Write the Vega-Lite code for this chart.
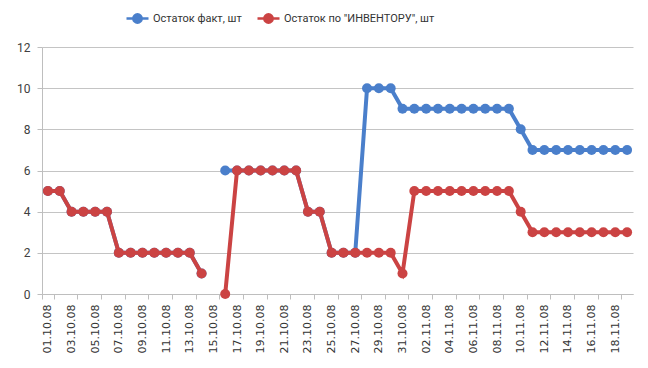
{
  "$schema": "https://vega.github.io/schema/vega-lite/v6.json",
  "width": 591,
  "height": 247,
  "autosize": {"type": "none"},
  "padding": {"left": 42, "top": 47, "right": 15, "bottom": 74},
  "background": "white",
  "config": {"view": {"stroke": null}},
  "data": {
    "values": [
      {"d": "01.10.08", "fact": 5, "inv": 5},
      {"d": "02.10.08", "fact": 5, "inv": 5},
      {"d": "03.10.08", "fact": 4, "inv": 4},
      {"d": "04.10.08", "fact": 4, "inv": 4},
      {"d": "05.10.08", "fact": 4, "inv": 4},
      {"d": "06.10.08", "fact": 4, "inv": 4},
      {"d": "07.10.08", "fact": 2, "inv": 2},
      {"d": "08.10.08", "fact": 2, "inv": 2},
      {"d": "09.10.08", "fact": 2, "inv": 2},
      {"d": "10.10.08", "fact": 2, "inv": 2},
      {"d": "11.10.08", "fact": 2, "inv": 2},
      {"d": "12.10.08", "fact": 2, "inv": 2},
      {"d": "13.10.08", "fact": 2, "inv": 2},
      {"d": "14.10.08", "fact": 1, "inv": 1},
      {"d": "15.10.08", "fact": null, "inv": null},
      {"d": "16.10.08", "fact": 6, "inv": 0},
      {"d": "17.10.08", "fact": 6, "inv": 6},
      {"d": "18.10.08", "fact": 6, "inv": 6},
      {"d": "19.10.08", "fact": 6, "inv": 6},
      {"d": "20.10.08", "fact": 6, "inv": 6},
      {"d": "21.10.08", "fact": 6, "inv": 6},
      {"d": "22.10.08", "fact": 6, "inv": 6},
      {"d": "23.10.08", "fact": 4, "inv": 4},
      {"d": "24.10.08", "fact": 4, "inv": 4},
      {"d": "25.10.08", "fact": 2, "inv": 2},
      {"d": "26.10.08", "fact": 2, "inv": 2},
      {"d": "27.10.08", "fact": 2, "inv": 2},
      {"d": "28.10.08", "fact": 10, "inv": 2},
      {"d": "29.10.08", "fact": 10, "inv": 2},
      {"d": "30.10.08", "fact": 10, "inv": 2},
      {"d": "31.10.08", "fact": 9, "inv": 1},
      {"d": "01.11.08", "fact": 9, "inv": 5},
      {"d": "02.11.08", "fact": 9, "inv": 5},
      {"d": "03.11.08", "fact": 9, "inv": 5},
      {"d": "04.11.08", "fact": 9, "inv": 5},
      {"d": "05.11.08", "fact": 9, "inv": 5},
      {"d": "06.11.08", "fact": 9, "inv": 5},
      {"d": "07.11.08", "fact": 9, "inv": 5},
      {"d": "08.11.08", "fact": 9, "inv": 5},
      {"d": "09.11.08", "fact": 9, "inv": 5},
      {"d": "10.11.08", "fact": 8, "inv": 4},
      {"d": "11.11.08", "fact": 7, "inv": 3},
      {"d": "12.11.08", "fact": 7, "inv": 3},
      {"d": "13.11.08", "fact": 7, "inv": 3},
      {"d": "14.11.08", "fact": 7, "inv": 3},
      {"d": "15.11.08", "fact": 7, "inv": 3},
      {"d": "16.11.08", "fact": 7, "inv": 3},
      {"d": "17.11.08", "fact": 7, "inv": 3},
      {"d": "18.11.08", "fact": 7, "inv": 3},
      {"d": "19.11.08", "fact": 7, "inv": 3}
    ]
  },
  "encoding": {
    "x": {
      "field": "d",
      "type": "ordinal",
      "sort": null,
      "title": null,
      "scale": {"type": "band", "paddingInner": 0, "paddingOuter": 0},
      "axis": {
        "values": ["01.10.08","03.10.08","05.10.08","07.10.08","09.10.08","11.10.08","13.10.08","15.10.08","17.10.08","19.10.08","21.10.08","23.10.08","25.10.08","27.10.08","29.10.08","31.10.08","02.11.08","04.11.08","06.11.08","08.11.08","10.11.08","12.11.08","14.11.08","16.11.08","18.11.08"],
        "tickBand": "extent",
        "labelAngle": 270,
        "labelFont": "DejaVu Sans",
        "labelFontSize": 11,
        "labelColor": "#333333",
        "labelPadding": 5,
        "tickSize": 5,
        "tickColor": "#BEBEBE",
        "domainColor": "#BEBEBE",
        "grid": false
      }
    }
  },
  "layer": [
    {
      "mark": {"type": "line", "strokeWidth": 4, "invalid": "break-paths-show-domains", "point": {"filled": true, "size": 100, "opacity": 1}},
      "encoding": {
        "y": {
          "field": "fact",
          "type": "quantitative",
          "title": null,
          "scale": {"domain": [0, 12], "nice": false},
          "axis": {
            "values": [0, 2, 4, 6, 8, 10, 12],
            "grid": true,
            "gridColor": "#C4C4C4",
            "domainColor": "#BEBEBE",
            "tickColor": "#BEBEBE",
            "tickSize": 5,
            "labelPadding": 7,
            "labelFont": "Roboto",
            "labelFontSize": 12,
            "labelColor": "#404040"
          }
        },
        "color": {
          "datum": "Остаток факт, шт",
          "scale": {"domain": ["Остаток факт, шт", "Остаток по \"ИНВЕНТОРУ\", шт"], "range": ["#4A7FCB", "#CB4343"]},
          "legend": {
            "orient": "none",
            "legendX": 83,
            "legendY": -41,
            "direction": "horizontal",
            "gridAlign": "none",
            "title": null,
            "symbolType": "M-1,0H-0.38M0.38,0H1M-0.38,0A0.38,0.38,0,1,1,0.38,0A0.38,0.38,0,1,1,-0.38,0Z",
            "symbolSize": 484,
            "symbolStrokeWidth": 2.5,
            "labelFont": "Roboto",
            "labelFontSize": 11,
            "labelColor": "#333333",
            "labelOffset": 3,
            "labelLimit": 400,
            "columnPadding": 10,
            "encode": {"symbols": {"update": {"fill": {"scale": "color", "field": "value"}, "fillOpacity": {"value": 1}, "opacity": {"value": 1}}}}
          }
        }
      }
    },
    {
      "mark": {"type": "line", "strokeWidth": 4, "invalid": "break-paths-show-domains", "point": {"filled": true, "size": 100, "opacity": 1}},
      "encoding": {
        "y": {"field": "inv", "type": "quantitative"},
        "color": {"datum": "Остаток по \"ИНВЕНТОРУ\", шт"}
      }
    }
  ]
}
